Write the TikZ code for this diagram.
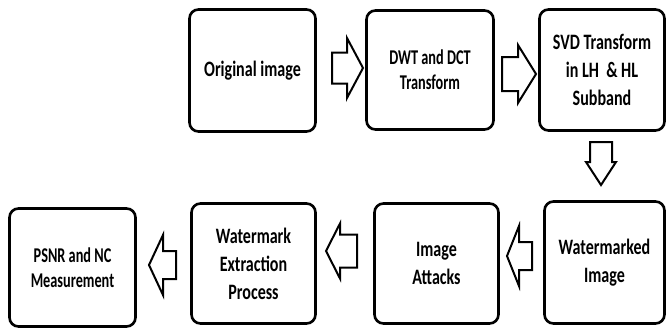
\documentclass[tikz,border=0pt]{standalone}
\usepackage{fontspec}
\setmainfont{Carlito}[FakeStretch=0.73]
\newfontfamily\narrowfont{Carlito}[FakeStretch=0.68]
\usetikzlibrary{calc}
\tikzset{
  stage/.style={draw=black, line width=2.6pt, rounded corners=9pt, fill=white,
    align=center, inner sep=0pt, outer sep=0pt,
    font=\fontsize{22}{28}\selectfont\bfseries},
  smalltxt/.style={font=\narrowfont\fontsize{21}{25}\selectfont\bfseries},
  arrowline/.style={draw=black, line width=2pt, fill=white, line join=miter}
}
\newcommand\blockarrow[5]{% start, end, half shaft, half head, head length
  \draw[arrowline]
    ($(#1)!#3!90:(#2)$)
    -- ($(#2)!#5!(#1)!#3!-90:(#1)$)
    -- ($(#2)!#5!(#1)!#4!-90:(#1)$)
    -- (#2)
    -- ($(#2)!#5!(#1)!#4!90:(#1)$)
    -- ($(#2)!#5!(#1)!#3!90:(#1)$)
    -- ($(#1)!#3!-90:(#2)$) -- cycle;}
\begin{document}
\begin{tikzpicture}[x=1pt,y=-1pt]
\useasboundingbox[fill=white] (0,0) rectangle (667,332);
% boxes
\node[stage, minimum width=126pt, minimum height=122pt] (b1) at (252.5,70.5) {Original image};
\node[stage, smalltxt, minimum width=127pt, minimum height=119pt] (b2) at (430,70) {DWT and DCT\\Transform};
\node[stage, minimum width=125pt, minimum height=121pt] (b3) at (602,70) {SVD Transform\\in LH\ \ \& HL\\Subband};
\node[stage, minimum width=120pt, minimum height=122pt] (b4) at (604.5,262.5) {Watermarked\\Image};
\node[stage, minimum width=124pt, minimum height=120pt] (b5) at (436.5,263.5) {Image\\Attacks};
\node[stage, minimum width=124pt, minimum height=120pt] (b6) at (253.5,263.5) {Watermark\\Extraction\\Process};
\node[stage, smalltxt, minimum width=126pt, minimum height=118pt] (b7) at (72.5,267.5) {PSNR and NC\\Measurement};
% arrow end points
\coordinate (a1s) at (332,68);  \coordinate (a1e) at (363,68);
\coordinate (a2s) at (502,74);  \coordinate (a2e) at (536,74);
\coordinate (a3s) at (601,142); \coordinate (a3e) at (601,185);
\coordinate (a4s) at (532,256); \coordinate (a4e) at (507,256);
\coordinate (a5s) at (357,251); \coordinate (a5e) at (326,251);
\coordinate (a6s) at (176,265); \coordinate (a6e) at (149,265);
% block arrows
\blockarrow{a1s}{a1e}{15.5pt}{30pt}{16pt}
\blockarrow{a2s}{a2e}{17pt}{29pt}{18pt}
\blockarrow{a3s}{a3e}{11pt}{15pt}{23pt}
\blockarrow{a4s}{a4e}{14pt}{30pt}{12pt}
\blockarrow{a5s}{a5e}{16.5pt}{27.5pt}{14pt}
\blockarrow{a6s}{a6e}{14pt}{30pt}{14pt}
\end{tikzpicture}
\end{document}
